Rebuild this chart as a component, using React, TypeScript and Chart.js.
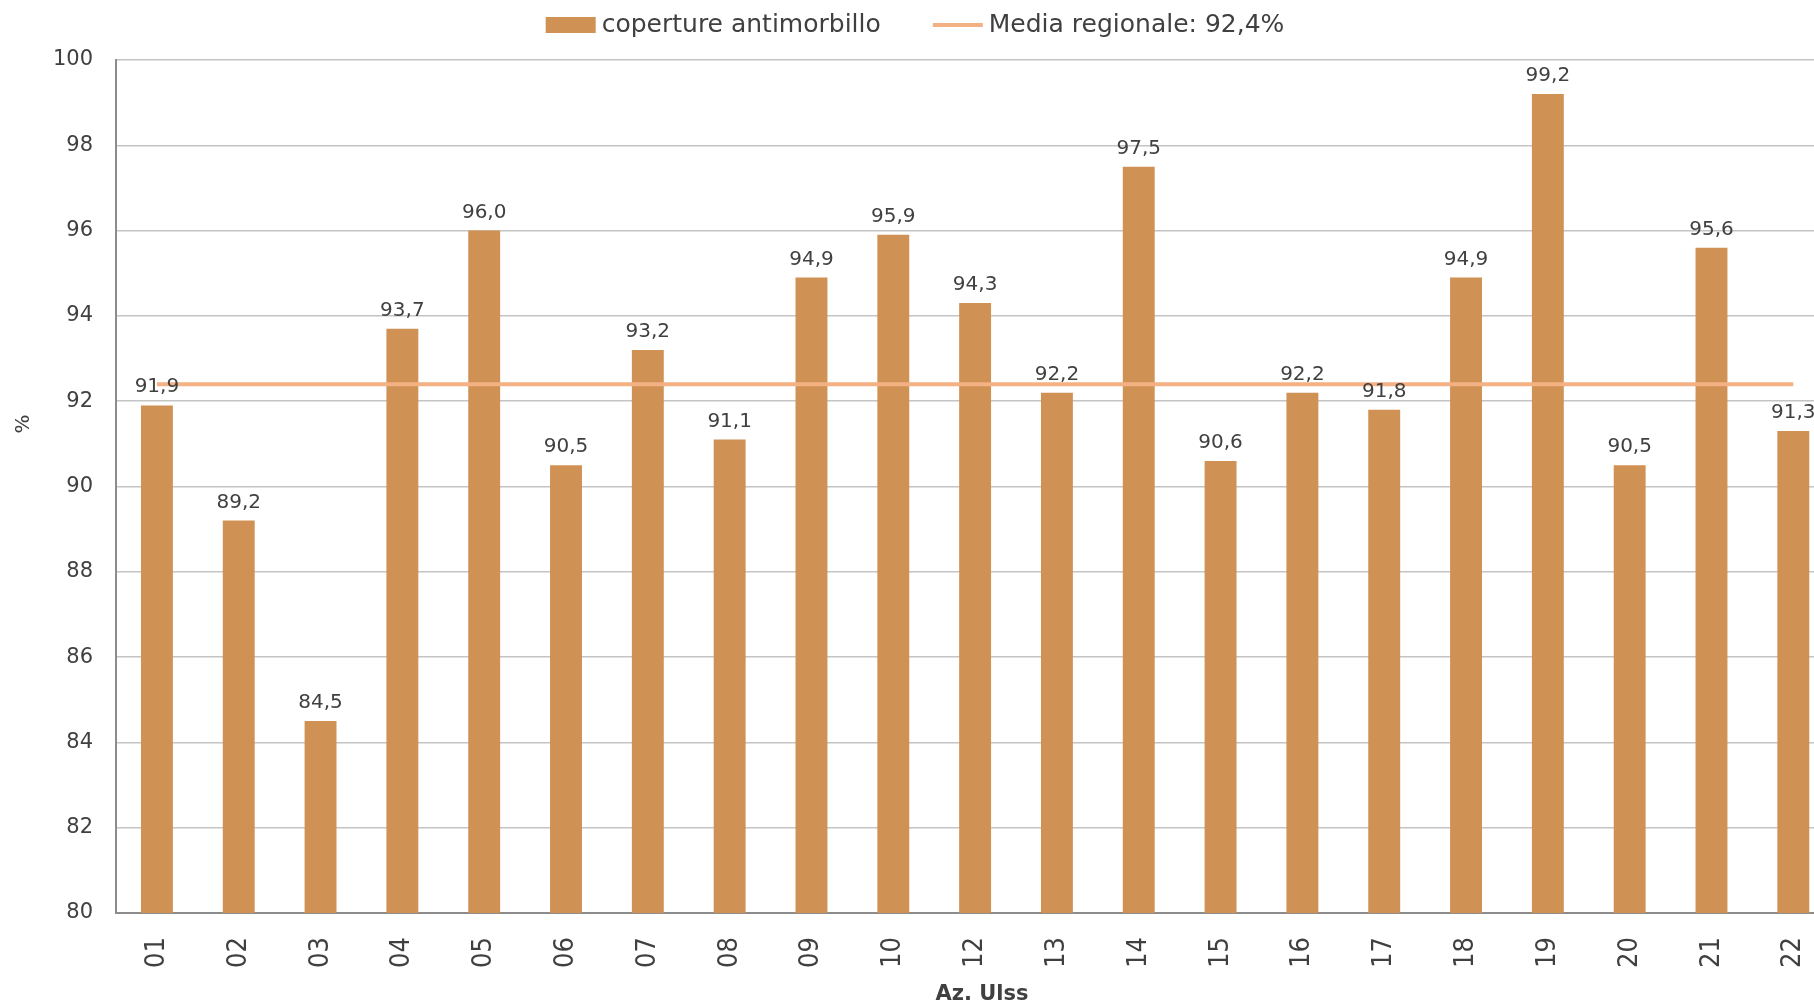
import React, { useEffect, useRef } from "react";
import { Chart, registerables } from "chart.js";

Chart.register(...registerables);

// ---- Data ----
const CATEGORIES = [
  "01", "02", "03", "04", "05", "06", "07", "08", "09", "10", "12",
  "13", "14", "15", "16", "17", "18", "19", "20", "21", "22",
];
const COVERAGE = [
  91.9, 89.2, 84.5, 93.7, 96.0, 90.5, 93.2, 91.1, 94.9, 95.9, 94.3,
  92.2, 97.5, 90.6, 92.2, 91.8, 94.9, 99.2, 90.5, 95.6, 91.3,
];
const REGIONAL_MEAN = [
  92.4, 92.4, 92.4, 92.4, 92.4, 92.4, 92.4, 92.4, 92.4, 92.4, 92.4,
  92.4, 92.4, 92.4, 92.4, 92.4, 92.4, 92.4, 92.4, 92.4, 92.4,
];
const Y_MIN = 80;
const Y_MAX = 100;
const Y_STEP = 2;
const SERIES_LABEL = "coperture antimorbillo";
const MEAN_LABEL = "Media regionale: 92,4%";
const X_TITLE = "Az. Ulss";
const Y_TITLE = "%";

// ---- Styles ----
const BAR_COLOR = "#D09155";
const LINE_COLOR = "#F4B183";
const TEXT_COLOR = "#404040";
const FONT = '"DejaVu Sans", sans-serif';

const CANVAS_W = 1850;
const CANVAS_H = 1006;

const fmt = (v: number) => v.toFixed(1).replace(".", ",");

const valueLabels = {
  id: "valueLabels",
  afterDatasetsDraw(chart: any) {
    const meta = chart.getDatasetMeta(0);
    const ds = chart.data.datasets[0];
    const ctx = chart.ctx;
    ctx.save();
    ctx.font = `20px ${FONT}`;
    ctx.fillStyle = TEXT_COLOR;
    ctx.textAlign = "center";
    ctx.textBaseline = "alphabetic";
    meta.data.forEach((el: any, i: number) => {
      ctx.fillText(fmt(ds.data[i] as number), el.x, el.y - 13);
    });
    ctx.restore();
  },
};

const customLegend = {
  id: "customLegend",
  afterDraw(chart: any) {
    const ctx = chart.ctx;
    const ds = chart.data.datasets;
    ctx.save();
    ctx.font = `25px ${FONT}`;
    ctx.textBaseline = "middle";
    ctx.textAlign = "left";
    const boxW = 50;
    const gapText = 6;
    const gapItems = 52;
    const w1 = ctx.measureText(ds[0].label).width;
    const w2 = ctx.measureText(ds[1].label).width;
    const total = boxW + gapText + w1 + gapItems + boxW + gapText + w2;
    const cy = 25;
    let x = 915 - total / 2;
    ctx.fillStyle = ds[0].backgroundColor;
    ctx.fillRect(x, cy - 8, boxW, 16);
    x += boxW + gapText;
    ctx.fillStyle = TEXT_COLOR;
    ctx.fillText(ds[0].label, x, cy);
    x += w1 + gapItems;
    ctx.strokeStyle = ds[1].borderColor;
    ctx.lineWidth = 4;
    ctx.beginPath();
    ctx.moveTo(x, cy);
    ctx.lineTo(x + boxW, cy);
    ctx.stroke();
    x += boxW + gapText;
    ctx.fillStyle = TEXT_COLOR;
    ctx.fillText(ds[1].label, x, cy);

    // y-axis title
    ctx.save();
    ctx.translate(24, 424);
    ctx.rotate(-Math.PI / 2);
    ctx.font = `20px ${FONT}`;
    ctx.textAlign = "center";
    ctx.textBaseline = "middle";
    ctx.fillText(Y_TITLE, 0, 0);
    ctx.restore();

    // x-axis title
    ctx.font = `bold 21px ${FONT}`;
    ctx.textAlign = "center";
    ctx.textBaseline = "middle";
    ctx.fillText(X_TITLE, 982, 995);
    ctx.restore();
  },
};

export default function App() {
  const ref = useRef<HTMLCanvasElement | null>(null);

  useEffect(() => {
    if (!ref.current) return;
    const chart = new Chart(ref.current, {
      type: "bar",
      data: {
        labels: CATEGORIES,
        datasets: [
          {
            type: "bar",
            label: SERIES_LABEL,
            data: COVERAGE,
            backgroundColor: BAR_COLOR,
            borderWidth: 0,
            barPercentage: 0.39,
            categoryPercentage: 1.0,
            order: 1,
          },
          {
            type: "line",
            label: MEAN_LABEL,
            data: REGIONAL_MEAN,
            borderColor: LINE_COLOR,
            backgroundColor: LINE_COLOR,
            borderWidth: 4,
            pointRadius: 0,
            fill: false,
            tension: 0,
            order: 0,
          },
        ],
      } as any,
      options: {
        responsive: false,
        animation: false,
        devicePixelRatio: 1,
        layout: { padding: { top: 60, right: 12, bottom: 0, left: 0 } },
        plugins: {
          legend: { display: false },
          tooltip: { enabled: false },
        },
        scales: {
          x: {
            grid: { display: false, drawTicks: false },
            border: { display: true, color: "#8C8C8C", width: 2 },
            ticks: {
              autoSkip: false,
              maxRotation: 90,
              minRotation: 90,
              padding: 24,
              color: TEXT_COLOR,
              font: { family: '"Liberation Sans Narrow", "DejaVu Sans Condensed", sans-serif', size: 27 },
            },
            afterFit: (s: any) => {
              s.height = 93;
            },
          },
          y: {
            min: Y_MIN,
            max: Y_MAX,
            grid: { color: "#C4C4C4", lineWidth: 1.5, drawTicks: false },
            border: { display: true, color: "#8C8C8C", width: 2 },
            ticks: {
              stepSize: Y_STEP,
              padding: 23,
              color: TEXT_COLOR,
              font: { family: FONT, size: 21 },
            },
            afterFit: (s: any) => {
              s.width = 116;
            },
          },
        },
      } as any,
      plugins: [valueLabels, customLegend],
    });
    return () => chart.destroy();
  }, []);

  return (
    <div
      style={{
        position: "fixed",
        left: 0,
        top: 0,
        width: 1814,
        height: 1006,
        overflow: "hidden",
        background: "#fff",
      }}
    >
      <canvas ref={ref} width={CANVAS_W} height={CANVAS_H} style={{ display: "block" }} />
    </div>
  );
}
